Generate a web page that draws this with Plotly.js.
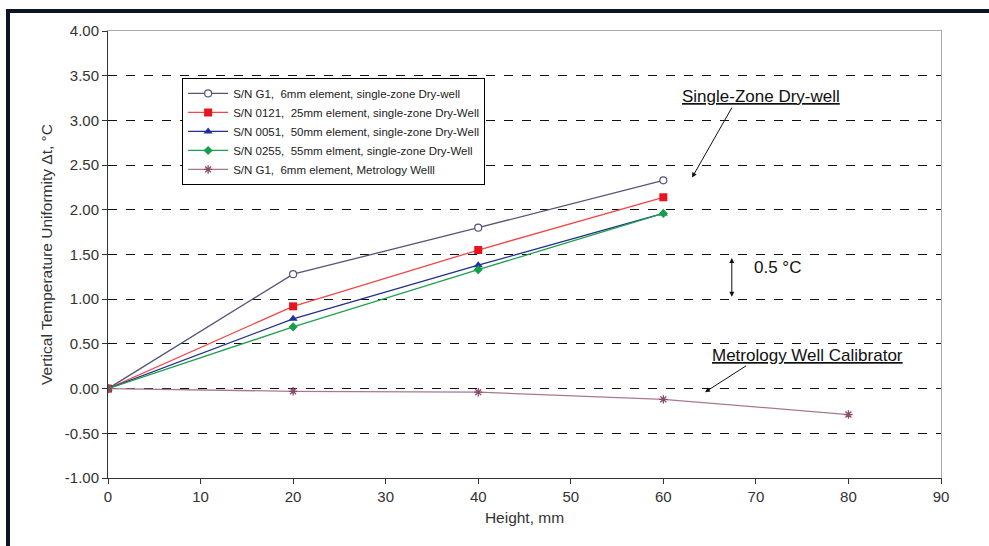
<!DOCTYPE html>
<html>
<head>
<meta charset="utf-8">
<script src="https://cdn.plot.ly/plotly-3.0.1.min.js"></script>
<style>
html,body{margin:0;padding:0;background:#fff;}
#wrap{position:relative;width:989px;height:546px;overflow:hidden;}
#chart{position:absolute;left:0;top:0;width:989px;height:546px;}
#ftop{position:absolute;left:6px;top:9px;width:983px;height:4px;background:#0b1526;}
#fleft{position:absolute;left:6px;top:9px;width:4px;height:537px;background:#0b1526;}
</style>
</head>
<body>
<div id="wrap">
<div id="chart"></div>
<div id="ftop"></div>
<div id="fleft"></div>
</div>
<script>
// Data
const heightsDry = [0, 20, 40, 60];
const heightsMet = [0, 20, 40, 60, 80];
const g1Dry = [0, 1.28, 1.80, 2.33];
const sn0121 = [0, 0.92, 1.55, 2.14];
const sn0051 = [0, 0.78, 1.38, 1.96];
const sn0255 = [0, 0.69, 1.33, 1.96];
const g1Met = [0, -0.03, -0.04, -0.12, -0.29];
const seriesNames = [
  "S/N G1,  6mm element, single-zone Dry-well",
  "S/N 0121,  25mm element, single-zone Dry-Well",
  "S/N 0051,  50mm element, single-zone Dry-Well",
  "S/N 0255,  55mm elment, single-zone Dry-Well",
  "S/N G1,  6mm element, Metrology Welll"
];
const xTicks = [0,10,20,30,40,50,60,70,80,90];
const yTicks = [-1,-0.5,0,0.5,1,1.5,2,2.5,3,3.5,4];

const font = "Liberation Sans, Arial, sans-serif";

const traces = [
  {x: heightsDry, y: g1Dry, name: seriesNames[0], mode: 'lines+markers',
   line: {color: '#55557a', width: 1.3},
   marker: {symbol: 'circle', size: 7, color: '#ffffff', line: {color: '#55557a', width: 1.2}}},
  {x: heightsDry, y: sn0121, name: seriesNames[1], mode: 'lines+markers',
   line: {color: '#f04848', width: 1.3},
   marker: {symbol: 'square', size: 8, color: '#e8141e'}},
  {x: heightsDry, y: sn0051, name: seriesNames[2], mode: 'lines+markers',
   line: {color: '#22308a', width: 1.3},
   marker: {symbol: 'triangle-up', size: 8, color: '#2030a0'}},
  {x: heightsDry, y: sn0255, name: seriesNames[3], mode: 'lines+markers',
   line: {color: '#1fa050', width: 1.3},
   marker: {symbol: 'diamond', size: 7, color: '#15a048'}},
  {x: heightsMet, y: g1Met, name: seriesNames[4], mode: 'lines+markers',
   line: {color: '#a87890', width: 1.3},
   marker: {symbol: 'asterisk-open', size: 7, color: '#8a4a6a', line: {color: '#8a4a6a', width: 1.3}}}
];

const layout = {
  width: 989, height: 546,
  margin: {l: 108, r: 48, t: 31, b: 68},
  paper_bgcolor: '#ffffff', plot_bgcolor: '#ffffff',
  font: {family: font, size: 13, color: '#333333'},
  showlegend: true,
  legend: {x: 0.089, y: 0.895, xanchor: 'left', yanchor: 'top',
    bgcolor: '#ffffff', bordercolor: '#000000', borderwidth: 1,
    font: {family: font, size: 11.5, color: '#222222'},
    tracegroupgap: 0, itemwidth: 40},
  xaxis: {range: [0, 90], tickvals: xTicks, ticktext: xTicks.map(String),
    showgrid: false, zeroline: false, showline: true, linecolor: '#333333', linewidth: 1,
    ticks: 'outside', ticklen: 5, tickcolor: '#333333',
    tickfont: {family: font, size: 15, color: '#333333'},
    title: {text: 'Height, mm', font: {family: font, size: 15.5, color: '#333333'}, standoff: 8}},
  yaxis: {range: [-1, 4], tickvals: yTicks, ticktext: yTicks.map(v => v.toFixed(2)),
    showgrid: true, gridcolor: '#111111', griddash: 'dash', gridwidth: 1,
    zeroline: false, showline: true, linecolor: '#333333', linewidth: 1,
    ticks: 'outside', ticklen: 5, tickcolor: '#333333',
    tickfont: {family: font, size: 15, color: '#333333'},
    title: {text: 'Vertical Temperature Uniformity Δt, °C', font: {family: font, size: 15.5, color: '#333333'}, standoff: 8}},
  xaxis2: {overlaying: 'x', side: 'top', range: [0, 90], showgrid: false, zeroline: false,
    showline: true, linecolor: '#aaaaaa', linewidth: 1, showticklabels: false, ticks: ''},
  yaxis2: {overlaying: 'y', side: 'right', range: [-1, 4], showgrid: false, zeroline: false,
    showline: true, linecolor: '#aaaaaa', linewidth: 1, showticklabels: false, ticks: ''},
  annotations: [
    {x: 70.6, y: 3.27, xref: 'x', yref: 'y', text: '<u>Single-Zone Dry-well</u>', showarrow: false,
     font: {family: font, size: 17, color: '#111111'}},
    {x: 63.1, y: 2.36, ax: 67.5, ay: 3.16, xref: 'x', yref: 'y', axref: 'x', ayref: 'y',
     text: '', showarrow: true, arrowhead: 2, arrowsize: 1, arrowwidth: 1, arrowcolor: '#111111'},
    {x: 75.6, y: 0.365, xref: 'x', yref: 'y', text: '<u>Metrology Well Calibrator</u>', showarrow: false,
     font: {family: font, size: 17, color: '#111111'}},
    {x: 64.5, y: -0.04, ax: 69.1, ay: 0.265, xref: 'x', yref: 'y', axref: 'x', ayref: 'y',
     text: '', showarrow: true, arrowhead: 2, arrowsize: 1, arrowwidth: 1, arrowcolor: '#111111'},
    {x: 69.6, y: 1.35, xref: 'x', yref: 'y', xanchor: 'left', text: '0.5 °C', showarrow: false,
     font: {family: font, size: 17, color: '#111111'}},
    {x: 67.4, y: 1.46, ax: 67.4, ay: 1.01, xref: 'x', yref: 'y', axref: 'x', ayref: 'y',
     text: '', showarrow: true, arrowhead: 2, startarrowhead: 2, arrowside: 'end+start',
     arrowsize: 1, arrowwidth: 1, arrowcolor: '#111111'}
  ]
};

// invisible trace to activate the secondary (frame) axes
traces.push({x: [0], y: [0], xaxis: 'x2', yaxis: 'y2', mode: 'markers',
  marker: {opacity: 0}, showlegend: false, hoverinfo: 'skip'});

Plotly.newPlot('chart', traces, layout, {displayModeBar: false, staticPlot: true});
</script>
</body>
</html>
